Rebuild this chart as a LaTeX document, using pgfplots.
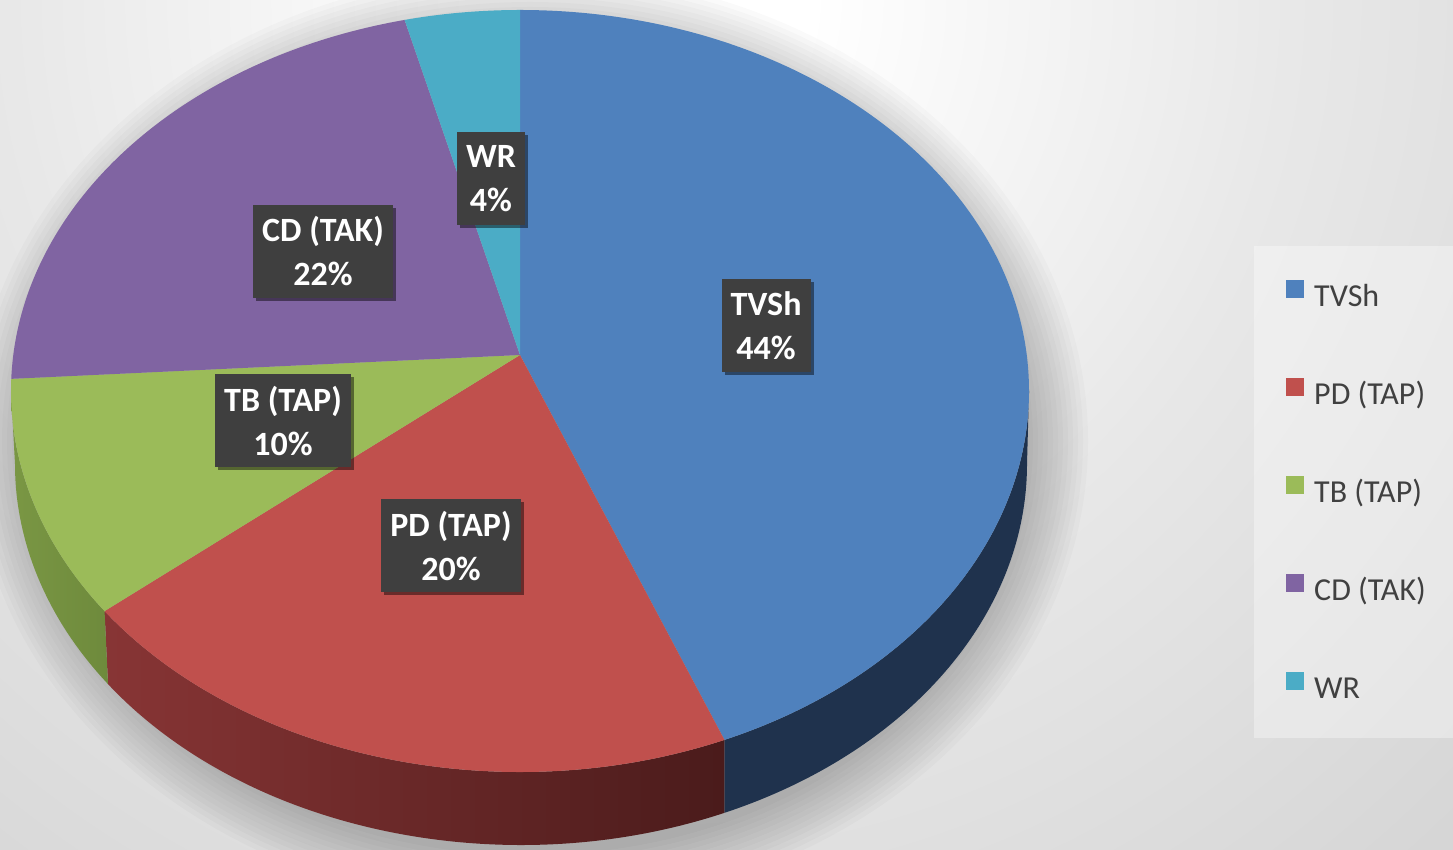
\documentclass[border=0pt]{standalone}
\usepackage{pgfplots}
\usepackage{pgfplotstable}
\pgfplotsset{compat=1.18}
\usepackage{fontspec}
\setmainfont{Carlito}
\usetikzlibrary{shadows}

\definecolor{cTVSh}{HTML}{4F81BD}
\definecolor{cPD}{HTML}{C0504D}
\definecolor{cTB}{HTML}{9BBB59}
\definecolor{cCD}{HTML}{8064A2}
\definecolor{cWR}{HTML}{4BACC6}
\definecolor{sTVSh}{HTML}{1F324D}
\definecolor{sPDa}{HTML}{883535}
\definecolor{sPDb}{HTML}{4A1B1B}
\definecolor{sTBa}{HTML}{7A9744}
\definecolor{sTBb}{HTML}{6E8A3C}
\definecolor{sCD}{HTML}{5D4877}
\definecolor{sWR}{HTML}{2F7A8E}
\definecolor{lblbox}{HTML}{3F3F3F}
\definecolor{legtext}{HTML}{404040}
\definecolor{bgA}{HTML}{E8E8E8}
\definecolor{bgB}{HTML}{D6D6D6}
\definecolor{bgC}{HTML}{CECECE}

\pgfdeclareradialshading{bgshade}{\pgfpoint{0bp}{0bp}}{%
  color(0bp)=(white); color(2.5bp)=(white); color(10bp)=(bgA);
  color(18bp)=(bgB); color(25bp)=(bgC); color(50bp)=(bgC)}

\tikzset{
  side0/.style={fill=sTVSh},
  side1/.style={left color=sPDa, right color=sPDb},
  side2/.style={left color=sTBa, right color=sTBb},
  side3/.style={fill=sCD},
  side4/.style={fill=sWR},
  lbl/.style={fill=lblbox, text=white,
    font=\fontsize{34}{44}\selectfont\bfseries, align=center,
    inner xsep=9pt, inner ysep=0pt, minimum height=93pt,
    drop shadow={shadow xshift=3pt, shadow yshift=-3pt, opacity=0.45, fill=black}},
}

% share of each category (%), colour, label position
\pgfplotstableread[col sep=comma]{
label,value,color,lx,ly
TVSh,44,cTVSh,766,523
PD (TAP),20,cPD,451,303
TB (TAP),10,cTB,283,428
CD (TAK),22,cCD,323,597.5
WR,4,cWR,491,670.5
}\piedata

\begin{document}
\begin{tikzpicture}
\begin{axis}[
  x=1pt, y=1pt, xmin=0, xmax=1453, ymin=0, ymax=849,
  hide axis, clip=false,
  legend image code/.code={\path[draw=none,fill=none] (0pt,-6pt) rectangle (18pt,22pt);
    \fill[#1, draw=none] (0pt,0pt) rectangle (18pt,18pt);},
  legend cell align=left,
  legend style={at={(0.88507,0.6749)}, anchor=north west,
    draw=none, fill=none, inner sep=0pt,
    font=\fontsize{32}{38}\selectfont, text=legtext, row sep=62pt,
    nodes={inner sep=0pt, text height=22pt, text depth=6pt},
    /tikz/every odd column/.append style={column sep=10pt}},
]
\pgfplotsextra{%
  \coordinate (LL) at (axis cs:0,0);
  \coordinate (UR) at (axis cs:1453,849);
  \begin{scope}
    \clip (axis cs:0,0) rectangle (axis cs:1453,849);
    \shade[shading=bgshade] (axis cs:-950,-751) rectangle (axis cs:2250,2449);
    \fill[white, opacity=0.35] (axis cs:1254,111) rectangle (axis cs:1453,603);
    \foreach \k in {0,...,11} {
      \fill[black, opacity=0.02] (axis cs:530,408) ellipse [x radius={503pt+5pt*\k}, y radius={414pt+5pt*\k}];
    }
  \end{scope}
  \coordinate (C) at (axis cs:520,458);
  \coordinate (B) at (axis cs:521,385);
  \coordinate (A) at (axis cs:520,494);
  \pgfplotstablegetrowsof{\piedata}%
  \pgfmathtruncatemacro\lastrow{\pgfplotsretval-1}%
  \xdef\thcur{0}\xdef\tcur{90}%
  % boundaries: true angle -> perspective image on the top ellipse
  \foreach \r in {0,...,\lastrow} {
    \pgfplotstablegetelem{\r}{value}\of\piedata
    \pgfmathsetmacro\thn{\thcur+3.6*\pgfplotsretval}
    \pgfmathsetmacro\dd{1+0.0945*cos(\thn)}
    \pgfmathsetmacro\px{506.7*sin(\thn)/\dd/509}
    \pgfmathsetmacro\py{(36+377.6*cos(\thn)/\dd)/381}
    \pgfmathsetmacro\tn{atan2(\py,\px)}
    \pgfmathsetmacro\tn{\tn>\tcur ? \tn-360 : \tn}
    \expandafter\xdef\csname pieA\r\endcsname{\tcur}
    \expandafter\xdef\csname pieB\r\endcsname{\tn}
    \xdef\tcur{\tn}\xdef\thcur{\thn}
  }
  % side walls
  \foreach \r in {0,...,\lastrow} {
    \edef\a{\csname pieA\r\endcsname}\edef\b{\csname pieB\r\endcsname}
    \pgfmathsetmacro\s{min(\a,0)}
    \pgfmathsetmacro\e{max(\b,-180)}
    \pgfmathtruncatemacro\vis{\s>\e}
    \ifnum\vis=1
      \path[side\r] ([shift={(\s:509pt and 381pt)}]C)
        arc[start angle=\s, end angle=\e, x radius=509pt, y radius=381pt]
        -- ([shift={(\e:506pt and 381pt)}]B)
        arc[start angle=\e, end angle=\s, x radius=506pt, y radius=381pt] -- cycle;
    \fi
  }
  % top faces
  \foreach \r in {0,...,\lastrow} {
    \pgfplotstablegetelem{\r}{color}\of\piedata
    \edef\c{\pgfplotsretval}
    \edef\a{\csname pieA\r\endcsname}\edef\b{\csname pieB\r\endcsname}
    \fill[\c] (A) -- ([shift={(\a:509pt and 381pt)}]C)
      arc[start angle=\a, end angle=\b, x radius=509pt, y radius=381pt] -- cycle;
  }
  % data labels
  \foreach \r in {0,...,\lastrow} {
    \pgfplotstablegetelem{\r}{label}\of\piedata \edef\lab{\pgfplotsretval}
    \pgfplotstablegetelem{\r}{value}\of\piedata \edef\val{\pgfplotsretval}
    \pgfplotstablegetelem{\r}{lx}\of\piedata \edef\lx{\pgfplotsretval}
    \pgfplotstablegetelem{\r}{ly}\of\piedata \edef\ly{\pgfplotsretval}
    \node[lbl] at (axis cs:\lx,\ly) {\lab\\\val\%};
  }
}
\addlegendimage{fill=cTVSh}\addlegendentry{TVSh}
\addlegendimage{fill=cPD}\addlegendentry{PD (TAP)}
\addlegendimage{fill=cTB}\addlegendentry{TB (TAP)}
\addlegendimage{fill=cCD}\addlegendentry{CD (TAK)}
\addlegendimage{fill=cWR}\addlegendentry{WR}
\end{axis}
\pgfresetboundingbox
\useasboundingbox (LL) rectangle (UR);
\end{tikzpicture}
\end{document}
